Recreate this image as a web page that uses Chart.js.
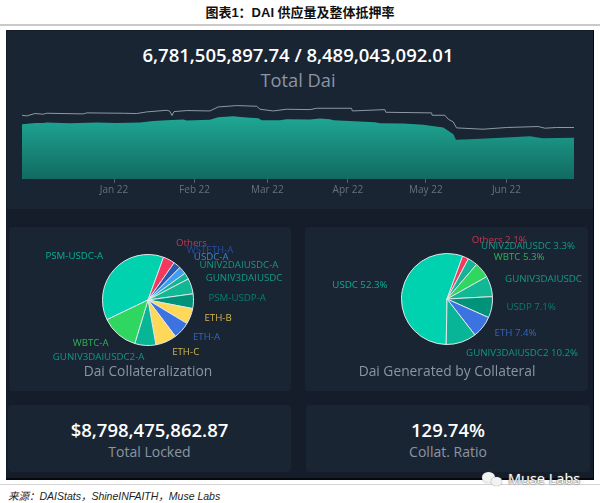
<!DOCTYPE html>
<html lang="zh">
<head>
<meta charset="utf-8">
<title>DAI</title>
<script src="https://cdn.jsdelivr.net/npm/chart.js@4"></script>
<style>
    html, body { margin: 0; padding: 0; background: #fff; }
    body { width: 600px; height: 503px; position: relative; overflow: hidden; font-family: "Open Sans", sans-serif; }
    .abs { position: absolute; }
    .title { left: 0; width: 600px; top: 2px; text-align: center; font: bold 13px "Liberation Sans", "Noto Sans CJK SC", sans-serif; color: #111; }
    .rule { left: 0; width: 600px; top: 24px; height: 2px; background: #c9c9c9; }
    .panel { left: 6px; top: 30px; width: 587px; height: 448px; background: #141d29; border-right: 1px solid #05080c; border-bottom: 2px solid #05080c; }
    .card { background: #1a2533; border-radius: 4px; }
    .big { color: #fff; font-size: 18.5px; font-weight: 600; text-align: center; white-space: nowrap; }
    .sub { color: #8b95a3; text-align: center; white-space: nowrap; }
    canvas { position: absolute; }
    .foot-rule { left: 0; width: 600px; top: 484px; height: 1px; background: #d4d4d4; }
    .source { left: 8px; top: 488px; font: italic 10.5px "Liberation Sans", "Noto Sans CJK SC", sans-serif; color: #222; }
    .mark { left: 508px; top: 469px; font-size: 14.5px; color: #fff; text-shadow: 0 0 2px #555, 0 0 1px #555; white-space: nowrap; }
    .wx { background: #f2f2f2; border-radius: 50%; box-shadow: 0 0 1px #666; }
</style>
</head>
<body>
<div class="abs title">图表1：DAI 供应量及整体抵押率</div>
<div class="abs rule"></div>
<div class="abs panel"></div>

<div class="abs card" style="left:7px;top:31px;width:586px;height:178px;border-radius:0"></div>
<div class="abs card" style="left:9px;top:227px;width:282px;height:164px"></div>
<div class="abs card" style="left:305px;top:227px;width:283px;height:164px"></div>
<div class="abs card" style="left:8px;top:405px;width:283px;height:67px"></div>
<div class="abs card" style="left:306px;top:405px;width:284px;height:67px"></div>

<div class="abs big" style="left:0;width:596px;top:42px">6,781,505,897.74 / 8,489,043,092.01</div>
<div class="abs sub" style="left:0;width:596px;top:67px;font-size:18.3px">Total Dai</div>
<canvas id="supplyChart"></canvas>

<canvas id="collatChart"></canvas>
<div class="abs sub" style="left:9px;width:278px;top:361px;font-size:13.8px">Dai Collateralization</div>
<canvas id="generatedChart"></canvas>
<div class="abs sub" style="left:305px;width:284px;top:361px;font-size:13.8px">Dai Generated by Collateral</div>

<div class="abs big" style="left:8px;width:283px;top:417px">$8,798,475,862.87</div>
<div class="abs sub" style="left:8px;width:283px;top:442px;font-size:14px">Total Locked</div>
<div class="abs big" style="left:306px;width:284px;top:417px">129.74%</div>
<div class="abs sub" style="left:306px;width:284px;top:442px;font-size:14px">Collat. Ratio</div>

<div class="abs foot-rule"></div>
<div class="abs source">来源：DAIStats，ShineINFAITH，Muse Labs</div>
<div class="abs wx" style="left:482px;top:472px;width:13px;height:11px"></div>
<div class="abs wx" style="left:491px;top:477px;width:11px;height:9px"></div>
<div class="abs mark">Muse Labs</div>

<script>
// days counted from 1 Jan 22, values in billions of Dai
const supplyDays = [-35.4, -32.3, -30.4, -27.2, -25.9, -16.9, -6.7, 1, 10, 15.1, 20.3, 26.7, 28, 36.9, 40.1, 45.9, 49.7, 55.5, 56.8, 63.8, 66.4, 75.4, 79.2, 83.1, 84.4, 94.6, 100.4, 102.3, 111.3, 119, 126.7, 130.6, 131.6, 137, 151, 160, 165, 177];
const supplyValues = [9.03, 9.13, 9.24, 9.24, 9.3, 9.19, 9.3, 9.24, 9.3, 9.57, 9.68, 9.79, 9.63, 9.74, 10.17, 10.34, 10.17, 10.01, 9.68, 9.68, 9.85, 9.79, 9.96, 9.85, 9.68, 9.46, 9.35, 9.19, 9.13, 8.92, 8.48, 7.38, 6.45, 6.56, 6.84, 7.06, 6.73, 6.78];
const ceilingDays = [-35.4, -33.6, -30.4, -27.2, -25.9, -11.8, -10.5, 3.6, 8.7, 12.6, 20.3, 21.5, 22.3, 23.1, 28, 36.9, 40.1, 47.2, 54.9, 56.2, 61.3, 66.4, 75.4, 78, 91.4, 91.7, 104.2, 104.6, 122.2, 122.4, 127.3, 128.6, 130.5, 131.8, 142, 151, 163.2, 165.8, 170.3, 177];
const ceilingValues = [10.5, 10.39, 10.78, 10.67, 10.83, 10.72, 10.89, 10.83, 10.78, 11.05, 11.32, 11.16, 10.45, 11.1, 11.27, 11.21, 11.87, 12.09, 11.98, 11.49, 11.21, 11.49, 11.43, 11.65, 11.65, 11.21, 11.43, 10.99, 10.89, 10.5, 10.5, 9.85, 9.41, 8.42, 8.2, 8.48, 8.64, 8.37, 8.48, 8.48];
const tickDays = [0, 31, 59, 90, 120, 151];
const tickLabels = ['Jan 22', 'Feb 22', 'Mar 22', 'Apr 22', 'May 22', 'Jun 22'];

const collatLabels = ['PSM-USDC-A', 'Others', 'WSTETH-A', 'USDC-A', 'UNIV2DAIUSDC-A', 'GUNIV3DAIUSDC', 'PSM-USDP-A', 'ETH-B', 'ETH-A', 'ETH-C', 'GUNIV3DAIUSDC2-A', 'WBTC-A'];
const collatValues = [37.7, 4.2, 2.6, 2.7, 2.3, 5.5, 5.2, 5.6, 6.1, 7.5, 7.5, 13.2];
const generatedLabels = ['USDC 52.3%', 'Others 2.1%', 'UNIV2DAIUSDC 3.3%', 'WBTC 5.3%', 'GUNIV3DAIUSDC', 'USDP 7.1%', 'ETH 7.4%', 'GUNIV3DAIUSDC2 10.2%'];
const generatedValues = [52.3, 2.1, 3.3, 5.3, 6.9, 7.1, 7.4, 10.2];

const collatColors = ['#00d1ae', '#f4385e', '#2a58b5', '#3d9ef2', '#14b597', '#10b896', '#01937a', '#ffd85a', '#3c73e0', '#ffd85a', '#08b596', '#2fd65f'];
const generatedColors = ['#00d1ae', '#f4385e', '#14b597', '#2fd65f', '#10b896', '#01937a', '#3c73e0', '#08b596'];

Chart.defaults.font.family = '"Open Sans", sans-serif';
Chart.defaults.animation = false;

function place(id, left, top, width, height) {
    const c = document.getElementById(id);
    c.style.left = left + 'px';
    c.style.top = top + 'px';
    c.style.width = width + 'px';
    c.style.height = height + 'px';
    c.width = width;
    c.height = height;
    return c;
}

// slice names sit just outside the pie, along the middle of each slice
const sliceLabels = {
    id: 'sliceLabels',
    afterDatasetsDraw(chart) {
        const ctx = chart.ctx;
        const names = chart.data.labels;
        const colors = chart.data.datasets[0].backgroundColor;
        ctx.save();
        ctx.font = '9.7px "Open Sans", sans-serif';
        ctx.textBaseline = 'middle';
        ctx.globalAlpha = 0.8;
        chart.getDatasetMeta(0).data.forEach((arc, i) => {
            const p = arc.getProps(['x', 'y', 'startAngle', 'endAngle', 'outerRadius'], true);
            const mid = (p.startAngle + p.endAngle) / 2;
            const r = p.outerRadius + 15;
            ctx.textAlign = Math.cos(mid) >= 0 ? 'left' : 'right';
            ctx.fillStyle = colors[i];
            ctx.fillText(names[i], p.x + Math.cos(mid) * r, p.y + Math.sin(mid) * r - 3);
        });
        ctx.restore();
    }
};

function drawPie(canvas, labels, values, colors, rotation) {
    return new Chart(canvas, {
        type: 'pie',
        plugins: [sliceLabels],
        data: {
            labels: labels,
            datasets: [{ data: values, backgroundColor: colors, borderColor: '#dfe9ea', borderWidth: 1 }]
        },
        options: {
            responsive: false,
            rotation: rotation,
            layout: { padding: 24 },
            plugins: { legend: { display: false }, tooltip: { enabled: false } }
        }
    });
}

new Chart(place('supplyChart', 6, 94, 588, 103), {
    type: 'line',
    data: {
        datasets: [
            {
                data: ceilingDays.map((d, i) => ({ x: d, y: ceilingValues[i] })),
                borderColor: '#8d99a4',
                borderWidth: 1,
                pointRadius: 0,
                fill: false
            },
            {
                data: supplyDays.map((d, i) => ({ x: d, y: supplyValues[i] })),
                borderWidth: 0,
                pointRadius: 0,
                fill: 'origin',
                backgroundColor(ctx) {
                    const area = ctx.chart.chartArea;
                    if (!area) return '#1a9a8a';
                    const g = ctx.chart.ctx.createLinearGradient(0, area.top + 20, 0, area.bottom);
                    g.addColorStop(0, '#1faa96');
                    g.addColorStop(1, '#126a62');
                    return g;
                }
            }
        ]
    },
    options: {
        responsive: false,
        layout: { padding: { left: 16, right: 20, top: 0, bottom: 0 } },
        plugins: { legend: { display: false }, tooltip: { enabled: false } },
        scales: {
            x: {
                type: 'linear',
                min: -35.4,
                max: 177,
                afterBuildTicks(axis) { axis.ticks = tickDays.map(v => ({ value: v })); },
                grid: { drawOnChartArea: false, color: '#55606c', tickLength: 4 },
                border: { display: false },
                ticks: {
                    autoSkip: false,
                    maxRotation: 0,
                    padding: 1,
                    color: '#66717d',
                    font: { size: 10 },
                    callback: v => tickLabels[tickDays.indexOf(v)]
                }
            },
            y: { display: false, min: 0, max: 14 }
        }
    }
});

drawPie(place('collatChart', 10, 230, 276, 140), collatLabels, collatValues, collatColors, 244.4);
drawPie(place('generatedChart', 306, 229, 282, 140), generatedLabels, generatedValues, generatedColors, 181);
</script>
</body>
</html>
